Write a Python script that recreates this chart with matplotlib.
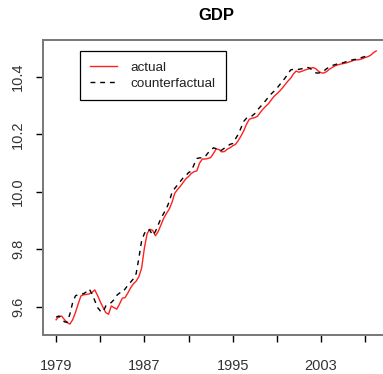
import numpy as np
import matplotlib
matplotlib.use("Agg")
import matplotlib.pyplot as plt

# Quarterly data, 1979Q1 onward
start_year = 1979.0
actual = [
    9.555, 9.566, 9.568, 9.556, 9.545, 9.540, 9.555, 9.580,
    9.610, 9.638, 9.642, 9.643, 9.645, 9.650, 9.659, 9.640,
    9.618, 9.598, 9.580, 9.574, 9.603, 9.597, 9.592, 9.610,
    9.630, 9.632, 9.648, 9.666, 9.680, 9.689, 9.705, 9.735,
    9.805, 9.855, 9.870, 9.866, 9.847, 9.862, 9.885, 9.908,
    9.925, 9.940, 9.963, 9.995, 10.008, 10.019, 10.032, 10.045,
    10.053, 10.064, 10.070, 10.073, 10.100, 10.114, 10.114, 10.116,
    10.119, 10.133, 10.149, 10.147, 10.139, 10.140, 10.148, 10.153,
    10.160, 10.165, 10.178, 10.194, 10.212, 10.235, 10.252, 10.256,
    10.258, 10.263, 10.276, 10.288, 10.298, 10.307, 10.320, 10.332,
    10.341, 10.350, 10.361, 10.373, 10.385, 10.395, 10.410, 10.420,
    10.416, 10.419, 10.423, 10.426, 10.429, 10.432, 10.429, 10.420,
    10.414, 10.413, 10.418, 10.426, 10.432, 10.438, 10.441, 10.444,
    10.446, 10.448, 10.451, 10.454, 10.458, 10.459, 10.460, 10.463,
    10.467, 10.470, 10.475, 10.484, 10.490,
]
counterfactual = [
    9.564, 9.568, 9.560, 9.548, 9.546, 9.575, 9.615, 9.638,
    9.643, 9.644, 9.646, 9.652, 9.662, 9.645, 9.622, 9.598,
    9.586, 9.582, 9.603, 9.609, 9.615, 9.625, 9.640, 9.648,
    9.650, 9.662, 9.675, 9.686, 9.697, 9.715, 9.770, 9.830,
    9.855, 9.870, 9.866, 9.849, 9.862, 9.885, 9.908, 9.925,
    9.942, 9.966, 9.998, 10.012, 10.024, 10.036, 10.048, 10.056,
    10.067, 10.072, 10.095, 10.116, 10.118, 10.118, 10.122, 10.135,
    10.142, 10.153, 10.150, 10.142, 10.145, 10.152, 10.158, 10.165,
    10.168, 10.184, 10.200, 10.222, 10.245, 10.256, 10.260, 10.264,
    10.272, 10.285, 10.296, 10.306, 10.318, 10.330, 10.341, 10.350,
    10.360, 10.372, 10.384, 10.396, 10.410, 10.424, 10.426, 10.426,
    10.426, 10.428, 10.430, 10.433, 10.430, 10.421, 10.414, 10.413,
    10.415, 10.420, 10.428, 10.434, 10.439, 10.442, 10.445, 10.447,
    10.449, 10.452, 10.455, 10.458, 10.460, 10.461, 10.464, 10.468,
    10.471, 10.476,
]
series_labels = ["actual", "counterfactual"]
title = "GDP"
xticks = list(range(1979, 2008, 4))
xticklabels = ["1979", "", "1987", "", "1995", "", "2003", ""]
yticks = [9.6, 9.8, 10.0, 10.2, 10.4]
yticklabels = ["9.6", "9.8", "10.0", "10.2", "10.4"]

t_act = start_year + 0.25 * np.arange(len(actual))
t_cf = start_year + 0.25 * np.arange(len(counterfactual))

plt.rcParams['font.family'] = ['Liberation Sans', 'DejaVu Sans']
W, H = 383, 374
fig = plt.figure(figsize=(W / 100, H / 100), dpi=100)
left, right, top, bottom = 43.3, 389.0, 40.0, 335.0
ax = fig.add_axes([left / W, 1 - bottom / H, (right - left) / W, (bottom - top) / H])

ax.plot(t_act, actual, color='#ff2020', lw=1.0, label=series_labels[0])
ax.plot(t_cf, counterfactual, color='black', lw=1.0, ls=(0, (3.5, 3.5)), label=series_labels[1])

xmin, xmax = t_act.min(), t_act.max()
ymin = min(min(actual), min(counterfactual))
ymax = max(max(actual), max(counterfactual))
ax.set_xlim(xmin - 0.04 * (xmax - xmin), xmax + 0.04 * (xmax - xmin))
ax.set_ylim(ymin - 0.04 * (ymax - ymin), ymax + 0.04 * (ymax - ymin))

ax.set_xticks(xticks)
ax.set_xticklabels(xticklabels)
ax.set_yticks(yticks)
ax.set_yticklabels(yticklabels, rotation=90, va='center')
ax.tick_params(axis='both', direction='out', length=5, width=1.0, color='black',
               labelsize=10.5, labelcolor='#333333')
ax.tick_params(axis='x', pad=12)
ax.tick_params(axis='y', pad=8)
for s in ax.spines.values():
    s.set_color('#777777')
    s.set_linewidth(1.4)

fig.text((left + right) / 2 / W, 1 - 16 / H, title, ha='center', va='center',
         fontsize=12, fontweight='bold')

leg = ax.legend(loc='upper left', bbox_to_anchor=(80 / W, 1 - 51 / H),
                bbox_transform=fig.transFigure, borderaxespad=0, fancybox=False,
                edgecolor='black', framealpha=1, fontsize=9.7, handlelength=2.0,
                handletextpad=1.0, borderpad=0.75, labelspacing=0.3)
leg.get_frame().set_linewidth(0.9)
for txt in leg.get_texts():
    txt.set_color('#222222')

fig.savefig('out.png', dpi=100)
